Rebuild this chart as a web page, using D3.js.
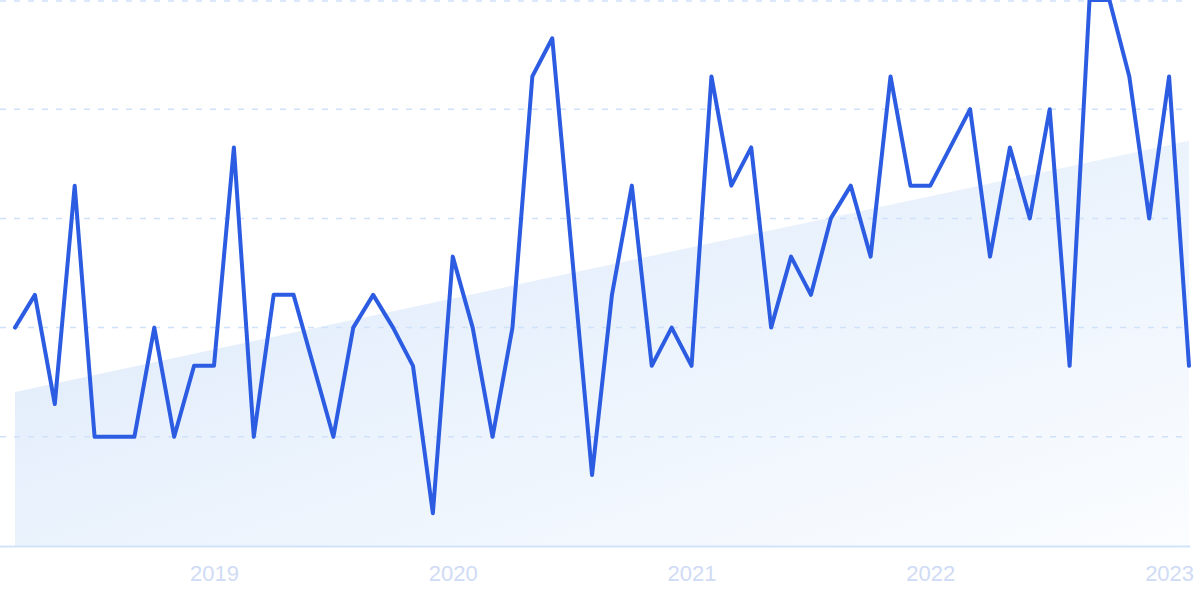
<!DOCTYPE html>
<html>
<head>
<meta charset="utf-8">
<script src="https://cdn.jsdelivr.net/npm/d3@7"></script>
<style>
html,body{margin:0;padding:0;background:#fff;}
svg{display:block;}
</style>
</head>
<body>
<svg id="chart" width="1200" height="599"></svg>
<script>
// Monthly points, 2018-03 .. 2023-02
const values = [40,46,26,66,20,20,20,40,20,33,33,73,
                20,46,46,33,20,40,46,40,33,6,53,40,
                20,40,86,93,53,13,46,66,33,40,33,86,
                66,73,40,53,46,60,66,53,86,66,66,73,
                80,53,73,60,80,33,100,100,86,60,86,33];
const trendValues = [28.2, 74.2];
const tickLabels = ["2019","2020","2021","2022","2023"];
const tickIndex = [10,22,34,46,58];
const gridValues = [20,40,60,80,100];

const svg = d3.select("#chart");
const x = d3.scaleLinear().domain([0, values.length-1]).range([15, 1189]);
const y = d3.scaleLinear().domain([0, 100]).range([546, 0]);

const defs = svg.append("defs");
const g = defs.append("linearGradient").attr("id","trendGrad")
  .attr("x1","0").attr("y1","0").attr("x2","1").attr("y2","1");
g.append("stop").attr("offset","0%").attr("stop-color","#dae8fa");
g.append("stop").attr("offset","100%").attr("stop-color","#fbfdff");

// trend area
const trendData = trendValues.map((v,i)=>({i: i===0?0:values.length-1, v}));
svg.append("path").datum(trendData)
  .attr("fill","url(#trendGrad)")
  .attr("d", d3.area().x(d=>x(d.i)).y0(y(0)).y1(d=>y(d.v)));

// grid
svg.append("g").selectAll("line").data(gridValues).join("line")
  .attr("x1",0).attr("x2",1186)
  .attr("y1",d=>Math.max(1,y(d))).attr("y2",d=>Math.max(1,y(d)))
  .attr("stroke","#d0e2fa").attr("stroke-width",1.5)
  .attr("stroke-dasharray","6,8");

// baseline
svg.append("line").attr("x1",0).attr("x2",1190)
  .attr("y1",y(0)+0.5).attr("y2",y(0)+0.5)
  .attr("stroke","#d1e3f9").attr("stroke-width",2);

// line
svg.append("path").datum(values)
  .attr("fill","none").attr("stroke","#2c5ce2")
  .attr("stroke-width",4).attr("stroke-linejoin","round").attr("stroke-linecap","round")
  .attr("d", d3.line().x((d,i)=>x(i)).y(d=>y(d)));

// x axis
const axis = d3.axisBottom(x).tickValues(tickIndex)
  .tickFormat((d,i)=>tickLabels[i]).tickSize(0).tickPadding(0);
const ax = svg.append("g").attr("transform","translate(0,565)").call(axis);
ax.select(".domain").remove();
ax.selectAll("text").attr("fill","#d0dbf5")
  .style("font-family","'Liberation Sans', Arial, sans-serif")
  .style("font-size","22px").attr("dy","0.71em");
</script>
</body>
</html>
